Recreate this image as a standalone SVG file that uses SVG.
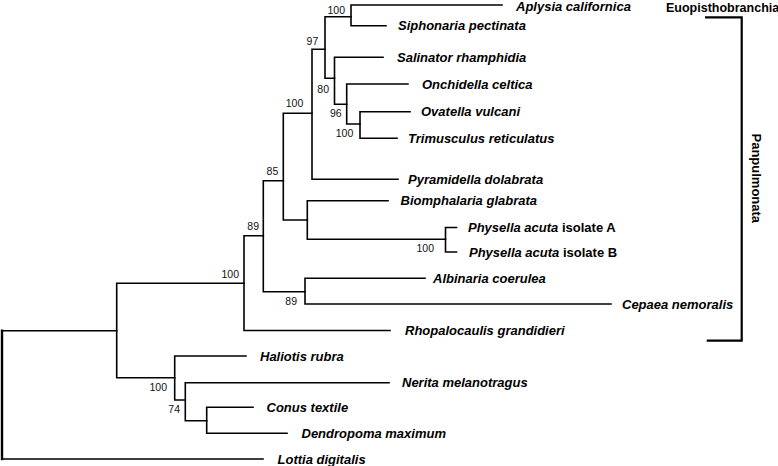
<svg xmlns="http://www.w3.org/2000/svg" width="778" height="466" viewBox="0 0 778 466">
<style>
.br{fill:none;stroke:#000;stroke-width:1.6;stroke-linejoin:miter;stroke-linecap:square}
.root{stroke-width:2.4}
.bk{fill:none;stroke:#000;stroke-width:2.2}
.tx{font-family:"Liberation Sans",Arial,sans-serif;font-size:13px;font-weight:bold;font-style:italic;fill:#000}
.up{font-style:normal}
.cl{font-family:"Liberation Sans",Arial,sans-serif;font-size:13px;font-weight:bold;fill:#000}
.bs{font-family:"Liberation Sans",Arial,sans-serif;font-size:10.5px;fill:#111;text-anchor:end}
</style>
<rect width="778" height="466" fill="#fff"/>
<g id="connectors">
<path class="br" d="M116.7 330.7 H2 M2 459 H263"/>
<path class="br root" d="M2 330.7 V459"/>
<path class="br" d="M244 283.3 H116.7 V377.7 H174.7"/>
<path class="br" d="M263.3 235.7 H244 V330.5 H390"/>
<path class="br" d="M283.3 180.7 H263.3 V291.7 H305"/>
<path class="br" d="M312 113.3 H283.3 V220 H307.3"/>
<path class="br" d="M325 49.3 H312 V179.3 H398"/>
<path class="br" d="M351 16.7 H325 V78.3 H334.5"/>
<path class="br" d="M502 5 H351 V25.7 H386"/>
<path class="br" d="M383 57.3 H334.5 V104.3 H346.7"/>
<path class="br" d="M408 84 H346.7 V124 H360"/>
<path class="br" d="M410 111.7 H360 V138.3 H397"/>
<path class="br" d="M388 200.7 H307.3 V239.3 H445.5"/>
<path class="br" d="M456.5 227.5 H445.5 V252 H456.5"/>
<path class="br" d="M425 278.3 H305 V304 H611"/>
<path class="br" d="M246 356 H174.7 V400 H185.3"/>
<path class="br" d="M389 382.7 H185.3 V420.7 H206.7"/>
<path class="br" d="M253 407.3 H206.7 V433.3 H287"/>
</g>
<g id="n_aply_siph"><text class="bs" x="345" y="13.8">100</text></g>
<g id="n_97"><text class="bs" x="318.3" y="44.5">97</text></g>
<g id="n_100_big"><text class="bs" x="303.3" y="107">100</text></g>
<g id="n_80"><text class="bs" x="329" y="93">80</text></g>
<g id="n_96"><text class="bs" x="341.7" y="117">96</text></g>
<g id="n_ova_tri"><text class="bs" x="353.3" y="136.5">100</text></g>
<g id="n_85"><text class="bs" x="278.3" y="174.5">85</text></g>
<g id="n_89a"><text class="bs" x="259" y="229.8">89</text></g>
<g id="n_physella"><text class="bs" x="434" y="252">100</text></g>
<g id="n_89b"><text class="bs" x="297" y="304.5">89</text></g>
<g id="n_panpul"><text class="bs" x="239" y="277.8">100</text></g>
<g id="n_out"><text class="bs" x="167" y="391">100</text></g>
<g id="n_74"><text class="bs" x="180" y="413">74</text></g>
<g id="l_aplysia"><text class="tx" x="516" y="10.5">Aplysia californica</text></g>
<g id="l_siphonaria"><text class="tx" x="398" y="30.2">Siphonaria pectinata</text></g>
<g id="l_salinator"><text class="tx" x="397" y="61.8">Salinator rhamphidia</text></g>
<g id="l_onchidella"><text class="tx" x="422" y="88.5">Onchidella celtica</text></g>
<g id="l_ovatella"><text class="tx" x="421" y="116.2">Ovatella vulcani</text></g>
<g id="l_trimusculus"><text class="tx" x="408" y="142.8">Trimusculus reticulatus</text></g>
<g id="l_pyramidella"><text class="tx" x="408" y="183.8">Pyramidella dolabrata</text></g>
<g id="l_biomphalaria"><text class="tx" x="400.5" y="205.2">Biomphalaria glabrata</text></g>
<g id="l_physellaA"><text class="tx" x="468" y="232">Physella acuta<tspan class="up"> isolate A</tspan></text></g>
<g id="l_physellaB"><text class="tx" x="469" y="256.5">Physella acuta<tspan class="up"> isolate B</tspan></text></g>
<g id="l_albinaria"><text class="tx" x="433" y="282.8">Albinaria coerulea</text></g>
<g id="l_cepaea"><text class="tx" x="622" y="308.5">Cepaea nemoralis</text></g>
<g id="l_rhopalocaulis"><text class="tx" x="405" y="335">Rhopalocaulis grandidieri</text></g>
<g id="l_haliotis"><text class="tx" x="260" y="360.5">Haliotis rubra</text></g>
<g id="l_nerita"><text class="tx" x="402" y="387.2">Nerita melanotragus</text></g>
<g id="l_conus"><text class="tx" x="266.5" y="411.8">Conus textile</text></g>
<g id="l_dendropoma"><text class="tx" x="301.5" y="437.8">Dendropoma maximum</text></g>
<g id="l_lottia"><text class="tx" x="277.5" y="463.5">Lottia digitalis</text></g>
<g id="clade_euopisthobranchia"><text class="cl" x="666" y="11.8" style="font-size:12.5px">Euopisthobranchia</text></g>
<g id="clade_panpulmonata">
<path class="bk" d="M705 17.3 H741.7 V340.7 H706.7"/>
<text class="cl" text-anchor="middle" transform="translate(752,178.3) rotate(90)">Panpulmonata</text>
</g>
</svg>
